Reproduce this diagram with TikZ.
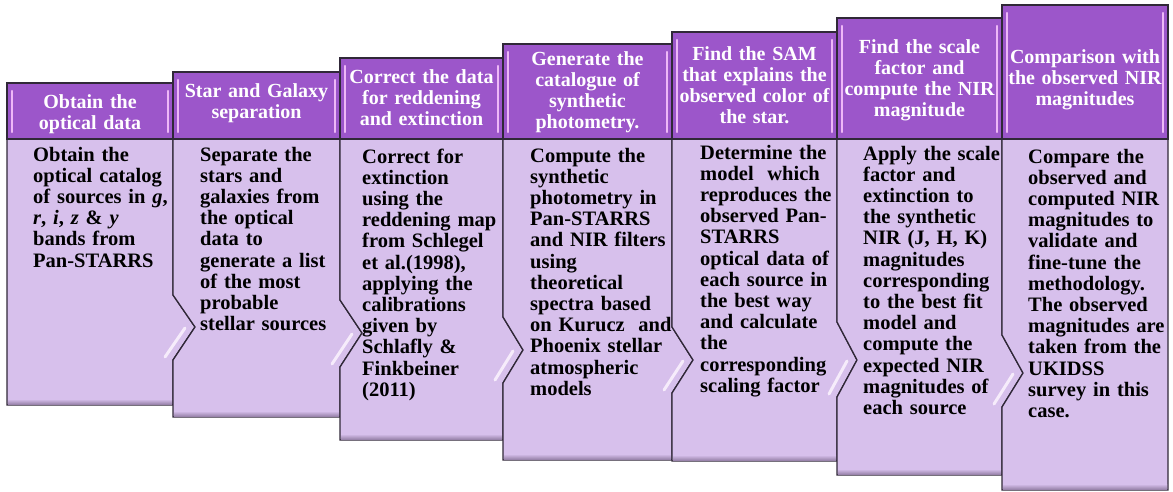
\documentclass[tikz,border=0pt]{standalone}
\usepackage{fontspec}
\setmainfont{Liberation Serif}
\definecolor{headc}{RGB}{156,86,202}
\definecolor{bodyc}{RGB}{215,192,236}
\definecolor{edgec}{RGB}{48,40,56}
\definecolor{stripec}{RGB}{238,184,247}
\definecolor{glintc}{RGB}{246,236,251}
\definecolor{shadec}{RGB}{150,128,168}
\begin{document}
\begin{tikzpicture}[x=1pt,y=-1pt,
  headbox/.style={fill=headc, draw=edgec, line width=1.3pt},
  bodybox/.style={fill=bodyc, draw=edgec, line width=1.3pt, line join=miter},
  headtxt/.style={text=white, font=\bfseries\fontsize{20}{21}\selectfont, align=center, text width=200pt, inner sep=0pt, anchor=base},
  bodytxt/.style={text=black, font=\bfseries\fontsize{20.5}{21.2}\selectfont, align=left, text width=165pt, inner sep=0pt, anchor=base west},
  stripe/.style={draw=stripec, line width=2.4pt, line cap=round},
  glint/.style={draw=glintc, line width=3pt, line cap=round},
  shadeband/.style={top color=bodyc, bottom color=shadec}
]
\useasboundingbox (0,0) rectangle (1173,491);
\fill[white] (0,0) rectangle (1173,491);

% ---------- bodies ----------
\path[bodybox] (7,139) -- (173,139) -- (173,295) -- (195,327) -- (173,360) -- (173,405) -- (7,405) -- cycle;
\shade[shadeband] (8,399) rectangle (172,404.4);
\path[bodybox] (173,139) -- (340,139) -- (340,300) -- (362,333) -- (340,367) -- (340,417) -- (173,417) -- (173,360) -- (195,327) -- (173,295) -- cycle;
\shade[shadeband] (174,411) rectangle (339,416.4);
\path[bodybox] (340,139) -- (503,139) -- (503,317) -- (523,350) -- (503,383) -- (503,440) -- (340,440) -- (340,367) -- (362,333) -- (340,300) -- cycle;
\shade[shadeband] (341,434) rectangle (502,439.4);
\path[bodybox] (503,139) -- (672,139) -- (672,327) -- (693,360) -- (672,393) -- (672,460) -- (503,460) -- (503,383) -- (523,350) -- (503,317) -- cycle;
\shade[shadeband] (504,454) rectangle (671,459.4);
\path[bodybox] (672,139) -- (837,139) -- (837,322) -- (857,360) -- (837,397) -- (837,461) -- (672,461) -- (672,393) -- (693,360) -- (672,327) -- cycle;
\shade[shadeband] (673,455) rectangle (836,460.4);
\path[bodybox] (837,139) -- (1002,139) -- (1002,335) -- (1023,373) -- (1002,407) -- (1002,475) -- (837,475) -- (837,397) -- (857,360) -- (837,322) -- cycle;
\shade[shadeband] (838,469) rectangle (1001,474.4);
\path[bodybox] (1002,139) -- (1168,139) -- (1168,490) -- (1002,490) -- (1002,407) -- (1023,373) -- (1002,335) -- cycle;
\shade[shadeband] (1003,484) rectangle (1167,489.4);

% glints on the lower slant of each arrow point
\draw[glint] (165,357) -- (185,328);
\draw[glint] (332,364) -- (352,334);
\draw[glint] (495,380) -- (513,351);
\draw[glint] (664,390) -- (683,361);
\draw[glint] (829,394) -- (847,361);
\draw[glint] (994,404) -- (1013,374);

% ---------- headers ----------
\path[headbox] (7,83) rectangle (173,139);
\path[headbox] (173,72) rectangle (340,139);
\path[headbox] (340,58) rectangle (503,139);
\path[headbox] (503,44) rectangle (672,139);
\path[headbox] (672,32) rectangle (837,139);
\path[headbox] (837,18) rectangle (1002,139);
\path[headbox] (1002,5) rectangle (1168,139);

\foreach \L/\R/\T in {7/173/83,173/340/72,340/503/58,503/672/44,672/837/32,837/1002/18,1002/1168/5}{
  \draw[stripe] (\L+5,\T+8) -- (\L+5,132);
  \draw[stripe] (\R-5,\T+8) -- (\R-5,132);
}

% ---------- header texts ----------
\node[headtxt] (h1) at (90,108) {Obtain the\\optical data};
\node[headtxt] (h2) at (256.5,97) {Star and Galaxy\\separation};
\node[headtxt] (h3) at (421.5,83) {Correct the data\\for reddening\\and extinction};
\node[headtxt] (h4) at (587.5,65) {Generate the\\catalogue of\\synthetic\\photometry.};
\node[headtxt] (h5) at (754.5,60) {Find the SAM\\that explains the\\observed color of\\the star.};
\node[headtxt] (h6) at (919.5,53) {Find the scale\\factor and\\compute the NIR\\magnitude};
\node[headtxt] (h7) at (1085,63) {Comparison with\\the observed NIR\\magnitudes};

% ---------- body texts ----------
\node[bodytxt] (b1) at (33,161) {Obtain the\\optical catalog\\of sources in \textit{g},\\\textit{r}, \textit{i}, \textit{z} \& \textit{y}\\bands from\\Pan-STARRS};
\node[bodytxt] (b2) at (200,161) {Separate the\\stars and\\galaxies from\\the optical\\data to\\generate a list\\of the most\\probable\\stellar sources};
\node[bodytxt] (b3) at (362,163) {Correct for\\extinction\\using the\\reddening map\\from Schlegel\\et al.(1998),\\applying the\\calibrations\\given by\\Schlafly \&\\Finkbeiner\\(2011)};
\node[bodytxt] (b4) at (530,162) {Compute the\\synthetic\\photometry in\\Pan-STARRS\\and NIR filters\\using\\theoretical\\spectra based\\on Kurucz~ and\\Phoenix stellar\\atmospheric\\models};
\node[bodytxt] (b5) at (700,159) {Determine the\\model~ which\\reproduces the\\observed Pan-\\STARRS\\optical data of\\each source in\\the best way\\and calculate\\the\\corresponding\\scaling factor};
\node[bodytxt] (b6) at (863,160) {Apply the scale\\factor and\\extinction to\\the synthetic\\NIR (J, H, K)\\magnitudes\\corresponding\\to the best fit\\model and\\compute the\\expected NIR\\magnitudes of\\each source};
\node[bodytxt] (b7) at (1028,163) {Compare the\\observed and\\computed NIR\\magnitudes to\\validate and\\fine-tune the\\methodology.\\The observed\\magnitudes are\\taken from the\\UKIDSS\\survey in this\\case.};
\end{tikzpicture}
\end{document}
